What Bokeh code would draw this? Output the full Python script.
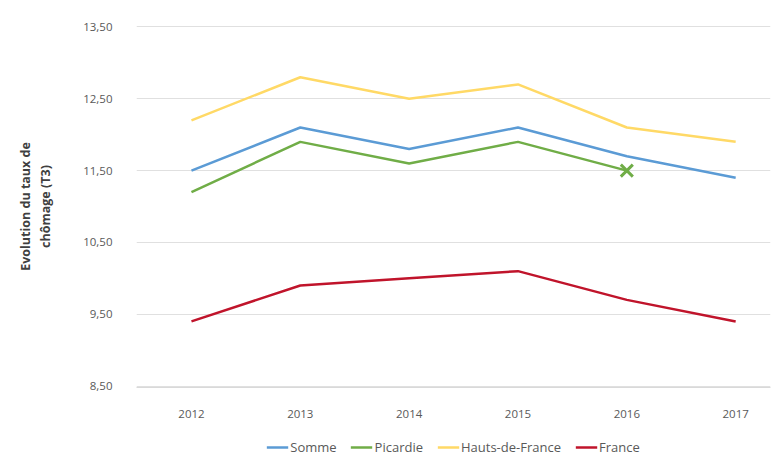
from bokeh.plotting import figure
from bokeh.layouts import column
from bokeh.models import Range1d, FixedTicker, Legend, LegendItem
from bokeh.embed import file_html
from bokeh.resources import INLINE

years = [2012, 2013, 2014, 2015, 2016, 2017]
year_labels = ["2012", "2013", "2014", "2015", "2016", "2017"]
somme = [11.5, 12.1, 11.8, 12.1, 11.7, 11.4]
picardie_years = [2012, 2013, 2014, 2015, 2016]
picardie = [11.2, 11.9, 11.6, 11.9, 11.5]
hdf = [12.2, 12.8, 12.5, 12.7, 12.1, 11.9]
france = [9.4, 9.9, 10.0, 10.1, 9.7, 9.4]
y_ticks = [8.5, 9.5, 10.5, 11.5, 12.5, 13.5]
y_labels = ["8,50", "9,50", "10,50", "11,50", "12,50", "13,50"]
series_names = ["Somme", "Picardie", "Hauts-de-France", "France"]

FONT = "Open Sans"
GREY = "#595959"
cols = {"Somme": "#5B9BD5", "Picardie": "#70AD47", "Hauts-de-France": "#FFD966", "France": "#C0142B"}
series = {"Somme": (years, somme), "Picardie": (picardie_years, picardie),
          "Hauts-de-France": (years, hdf), "France": (years, france)}

p = figure(width=772, height=424, output_backend="svg", toolbar_location=None,
           x_range=Range1d(2011.495, 2017.32), y_range=Range1d(8.48, 13.52),
           min_border_left=136, min_border_right=2, min_border_top=25, min_border_bottom=37)
p.outline_line_color = None
p.background_fill_color = "white"

for name in series_names:
    xs, ys = series[name]
    p.line(xs, ys, line_color=cols[name], line_width=2.5)
p.scatter([picardie_years[-1]], [picardie[-1]], marker="x", size=17,
          line_color=cols["Picardie"], line_width=3)

p.xaxis.ticker = FixedTicker(ticks=years)
p.xaxis.major_label_overrides = {y: l for y, l in zip(years, year_labels)}
p.yaxis.ticker = FixedTicker(ticks=y_ticks)
p.yaxis.major_label_overrides = {t: l for t, l in zip(y_ticks, y_labels)}

for ax in (p.xaxis[0], p.yaxis[0]):
    ax.major_tick_line_color = None
    ax.minor_tick_line_color = None
    ax.major_label_text_font = FONT
    ax.major_label_text_font_size = "11.5px"
    ax.major_label_text_color = GREY
p.yaxis.axis_line_color = None
p.xaxis.axis_line_color = "#D9D9D9"
p.xaxis.major_label_standoff = 16
p.yaxis.major_label_standoff = 18

p.yaxis.axis_label = "Evolution du taux de\nchômage (T3)"
p.yaxis.axis_label_text_font = FONT
p.yaxis.axis_label_text_font_size = "12.5px"
p.yaxis.axis_label_text_font_style = "bold"
p.yaxis.axis_label_text_color = "#404040"
p.yaxis.axis_label_standoff = 26

p.xgrid.grid_line_color = None
p.ygrid.grid_line_color = "#E0E0E0"
p.ygrid.grid_line_width = 1

# Legend in its own strip below the chart (series drawn outside its visible range)
lg = figure(width=772, height=34, output_backend="svg", toolbar_location=None,
            x_range=Range1d(0, 1), y_range=Range1d(0, 1),
            min_border_left=136, min_border_right=2, min_border_top=12, min_border_bottom=0)
lg.axis.visible = False
lg.grid.visible = False
lg.outline_line_color = None
items = []
for name in series_names:
    xs, ys = series[name]
    r = lg.line(xs, ys, line_color=cols[name], line_width=2.5)
    items.append(LegendItem(label=name, renderers=[r]))
legend = Legend(items=items, orientation="horizontal", location="center",
                label_text_font=FONT, label_text_font_size="13px", label_text_color=GREY,
                glyph_width=22, glyph_height=16, label_height=16, label_standoff=2,
                spacing=14, padding=2, margin=0,
                border_line_color=None, background_fill_alpha=0)
lg.add_layout(legend)

layout = column(p, lg, spacing=0)
open("out.html", "w").write(file_html(layout, INLINE))
